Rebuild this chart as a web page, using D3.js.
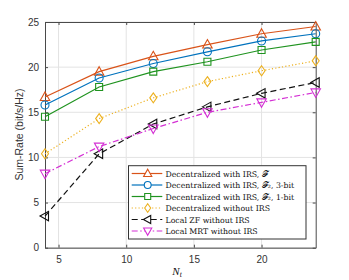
<!DOCTYPE html>
<html><head><meta charset="utf-8">
<script src="https://cdn.jsdelivr.net/npm/d3@7"></script>
<style>body{margin:0;background:#fff}svg{display:block}</style>
</head><body>
<svg id="c" width="349" height="280"></svg>
<script>
const xValues = [4, 8, 12, 16, 20, 24];
const decIRS = [16.7, 19.5, 21.2, 22.5, 23.7, 24.5];
const decIRS3bit = [15.8, 18.8, 20.4, 21.7, 22.9, 23.7];
const decIRS1bit = [14.5, 17.8, 19.5, 20.6, 21.9, 22.8];
const decNoIRS = [10.4, 14.3, 16.6, 18.4, 19.6, 20.7];
const localZF = [3.5, 10.4, 13.7, 15.6, 17.1, 18.3];
const localMRT = [8.2, 11.2, 13.2, 15.0, 16.1, 17.2];
const xTicks = [5, 10, 15, 20];
const yTicks = [0, 5, 10, 15, 20, 25];
const seriesNames = [
  "Decentralized with IRS, \u{1D4D5}",
  "Decentralized with IRS, \u{1D4D5}\u2082, 3-bit",
  "Decentralized with IRS, \u{1D4D5}\u2082, 1-bit",
  "Decentralized without IRS",
  "Local ZF without IRS",
  "Local MRT without IRS"
];

const series = [
  {name: seriesNames[0], values: decIRS, color: "#D95319", dash: null, marker: "up"},
  {name: seriesNames[1], values: decIRS3bit, color: "#0072BD", dash: null, marker: "circle"},
  {name: seriesNames[2], values: decIRS1bit, color: "#1f931f", dash: null, marker: "square"},
  {name: seriesNames[3], values: decNoIRS, color: "#EDB120", dash: "1.2,2.2", marker: "diamond"},
  {name: seriesNames[4], values: localZF, color: "#111111", dash: "6,3.5", marker: "left"},
  {name: seriesNames[5], values: localMRT, color: "#d42fd4", dash: "6,2.5,1.5,2.5", marker: "down"}
];

const svg = d3.select("#c");
const L = 45, R = 315.7, T = 22, B = 247.7;
const x = d3.scaleLinear().domain([4, 24]).range([L, R]);
const y = d3.scaleLinear().domain([0, 25]).range([B, T]);

// grid
svg.append("g").selectAll("line").data(xTicks).join("line")
  .attr("x1", d => x(d)).attr("x2", d => x(d)).attr("y1", T).attr("y2", B)
  .attr("stroke", "#e3e3e3").attr("stroke-width", 1);
svg.append("g").selectAll("line").data(yTicks).join("line")
  .attr("x1", L).attr("x2", R).attr("y1", d => y(d)).attr("y2", d => y(d))
  .attr("stroke", "#e3e3e3").attr("stroke-width", 1);

// axes
const fontSans = "Liberation Sans, Arial, sans-serif";
const xAxis = d3.axisBottom(x).tickValues(xTicks).tickSizeInner(-3).tickSizeOuter(0).tickPadding(8);
const gx = svg.append("g").attr("transform", `translate(0,${B})`).call(xAxis);
const yAxis = d3.axisLeft(y).tickValues(yTicks).tickSizeInner(-3).tickSizeOuter(0).tickPadding(6);
const gy = svg.append("g").attr("transform", `translate(${L},0)`).call(yAxis);
const xAxisTop = d3.axisTop(x).tickValues(xTicks).tickSizeInner(-3).tickSizeOuter(0).tickFormat("");
const gxt = svg.append("g").attr("transform", `translate(0,${T})`).call(xAxisTop);
const yAxisR = d3.axisRight(y).tickValues(yTicks).tickSizeInner(-3).tickSizeOuter(0).tickFormat("");
const gyr = svg.append("g").attr("transform", `translate(${R},0)`).call(yAxisR);
[gx, gy, gxt, gyr].forEach(g => {
  g.select(".domain").attr("stroke", "#4a4a4a").attr("stroke-width", 1);
  g.selectAll(".tick line").attr("stroke", "#4a4a4a");
  g.selectAll("text").attr("font-family", fontSans).attr("font-size", 10).attr("fill", "#333");
});

// lines
const line = d3.line().x((d, i) => x(xValues[i])).y(d => y(d));
const markerPath = (type, s) => {
  switch (type) {
    case "up": return `M0,${-s}L${s*0.95},${s*0.7}L${-s*0.95},${s*0.7}Z`;
    case "down": return `M0,${s}L${s*0.95},${-s*0.7}L${-s*0.95},${-s*0.7}Z`;
    case "left": return `M${-s},0L${s*0.7},${-s*0.95}L${s*0.7},${s*0.95}Z`;
    case "diamond": return `M0,${-s}L${s*0.7},0L0,${s}L${-s*0.7},0Z`;
    case "square": return `M${-s*0.7},${-s*0.7}H${s*0.7}V${s*0.7}H${-s*0.7}Z`;
    case "circle": return d3.arc()({innerRadius: 0, outerRadius: s*0.8, startAngle: 0, endAngle: 2*Math.PI});
  }
};
series.forEach(s => {
  svg.append("path").attr("d", line(s.values)).attr("fill", "none")
    .attr("stroke", s.color).attr("stroke-width", 1.2)
    .attr("stroke-dasharray", s.dash);
  svg.append("g").selectAll("path").data(s.values).join("path")
    .attr("transform", (d, i) => `translate(${x(xValues[i])},${y(d)})`)
    .attr("d", markerPath(s.marker, 5)).attr("fill", "none")
    .attr("stroke", s.color).attr("stroke-width", 1.1);
});

// legend
const lg = svg.append("g");
const lx = 128.5, ly = 165.7, lw = 177.5, lh = 73.3;
lg.append("rect").attr("x", lx).attr("y", ly).attr("width", lw).attr("height", lh)
  .attr("fill", "#fff").attr("stroke", "#333").attr("stroke-width", 1);
series.forEach((s, i) => {
  const yy = 173.5 + i * 11.5;
  lg.append("line").attr("x1", 131.7).attr("x2", 162.3).attr("y1", yy).attr("y2", yy)
    .attr("stroke", s.color).attr("stroke-width", 1.2).attr("stroke-dasharray", s.dash);
  lg.append("path").attr("transform", `translate(147.7,${yy})`)
    .attr("d", markerPath(s.marker, 4.3)).attr("fill", "#fff")
    .attr("stroke", s.color).attr("stroke-width", 1.1);
  lg.append("text").attr("x", 165.5).attr("y", yy + 3)
    .attr("font-family", "DejaVu Serif, Liberation Serif, serif").attr("font-size", 7.8)
    .attr("fill", "#111").text(s.name);
});

// axis labels
svg.append("text").attr("transform", `translate(23,134.5) rotate(-90)`)
  .attr("text-anchor", "middle").attr("font-family", fontSans).attr("font-size", 10.5)
  .attr("fill", "#333").text("Sum-Rate (bit/s/Hz)");
const xl = svg.append("text").attr("x", 177).attr("y", 275).attr("text-anchor", "middle")
  .attr("font-family", "Liberation Serif, serif").attr("font-style", "italic")
  .attr("font-size", 11).attr("fill", "#111");
xl.append("tspan").text("N");
xl.append("tspan").attr("font-size", 7.5).attr("dy", 2).text("t");
</script>
</body></html>
